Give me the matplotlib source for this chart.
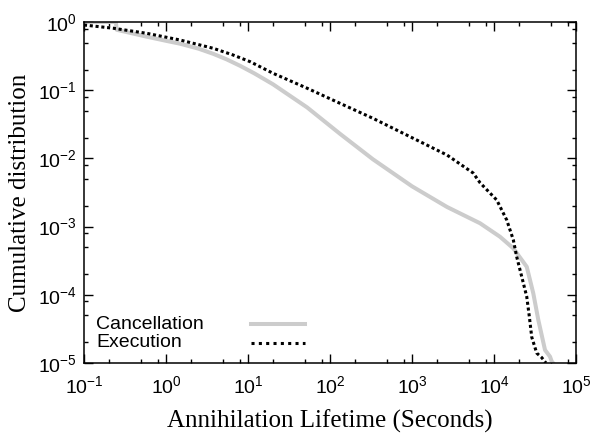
import matplotlib
matplotlib.use("Agg")
import matplotlib.pyplot as plt
from matplotlib.lines import Line2D
from matplotlib.ticker import FixedLocator, LogLocator, NullFormatter

# lifetime (seconds) and complementary cumulative distribution
cancel_x = [0.1, 0.245, 0.25, 0.58, 1.0, 1.48, 2.5, 3.78, 5.5, 8.0, 12, 20.2,
            52.5, 132, 334, 1000, 2673, 6750, 11830, 17190, 25060, 30130,
            34700, 41880, 48200, 50600, 52500]
cancel_y = [1.0, 1.0, 0.77, 0.61, 0.53, 0.481, 0.406, 0.341, 0.283, 0.228,
            0.176, 0.122, 0.056, 0.023, 0.0097, 0.0039, 0.00194, 0.00112,
            7.1e-4, 4.8e-4, 2.58e-4, 1.05e-4, 4.27e-5, 1.55e-5, 1.24e-5,
            1.05e-5, 1.0e-5]

exec_x = [0.1, 0.228, 0.58, 1.48, 3.78, 6.5, 10.6, 20.2, 52.5, 132, 334, 946,
          2673, 5570, 6750, 10800, 14290, 17190, 18920, 21780, 25060, 26950,
          28840, 33150, 38200, 43000]
exec_y = [0.904, 0.81, 0.683, 0.545, 0.411, 0.33, 0.262, 0.177, 0.107, 0.0643,
          0.0387, 0.0208, 0.0112, 0.0061, 0.0044, 0.00245, 0.00125, 6.4e-4,
          3.6e-4, 1.84e-4, 9.4e-5, 4.8e-5, 2.4e-5, 1.4e-5, 1.2e-5, 1.0e-5]

labels = ["Cancellation", "Execution"]
x_ticks = [1e-1, 1e0, 1e1, 1e2, 1e3, 1e4, 1e5]
y_ticks = [1e-5, 1e-4, 1e-3, 1e-2, 1e-1, 1e0]

plt.rcParams["font.family"] = ["Liberation Sans", "DejaVu Sans"]
plt.rcParams["mathtext.default"] = "regular"

fig = plt.figure(figsize=(5.92, 4.34), dpi=100)
ax = fig.add_axes([0.1419, 0.1636, 0.8311, 0.7857])

gray = (0.80, 0.80, 0.80)
ax.plot(cancel_x, cancel_y, color=gray, lw=2.9, solid_joinstyle="round")
ax.plot(exec_x, exec_y, color="black", lw=2.2, linestyle=(0, (1, 0.9)))

ax.set_xscale("log")
ax.set_yscale("log")
ax.set_xlim(0.1, 1e5)
ax.set_ylim(1e-5, 1)

ax.xaxis.set_major_locator(FixedLocator(x_ticks))
ax.yaxis.set_major_locator(FixedLocator(y_ticks))
for axis in (ax.xaxis, ax.yaxis):
    axis.set_minor_locator(LogLocator(base=10, subs=(2, 5, 8), numticks=20))
    axis.set_minor_formatter(NullFormatter())

ax.tick_params(which="both", direction="in", top=True, right=True, width=1.0,
               labelsize=14)
ax.tick_params(which="major", length=6.3)
ax.tick_params(which="minor", length=3.1)
ax.tick_params(axis="x", which="major", pad=9)
ax.tick_params(axis="y", which="major", pad=5)
for sp in ax.spines.values():
    sp.set_linewidth(1.1)

ax.set_xlabel("Annihilation Lifetime (Seconds)", family="Liberation Serif",
              fontsize=18, labelpad=9)
ax.set_ylabel("Cumulative distribution", family="Liberation Serif",
              fontsize=18, labelpad=5)

# gnuplot-style key: left-aligned text, sample line on the right
key_rows = [(labels[0], 0.114, dict(color=gray, lw=2.9)),
            (labels[1], 0.0587, dict(color="black", lw=2.2, linestyle=(0, (1, 1.4))))]
for text, ky, style in key_rows:
    ax.text(0.0244, ky, text, transform=ax.transAxes, fontsize=14,
            va="center", ha="left")
    ax.add_line(Line2D([0.339, 0.45], [ky, ky], transform=ax.transAxes, **style))

fig.savefig("out.png", dpi=100)
